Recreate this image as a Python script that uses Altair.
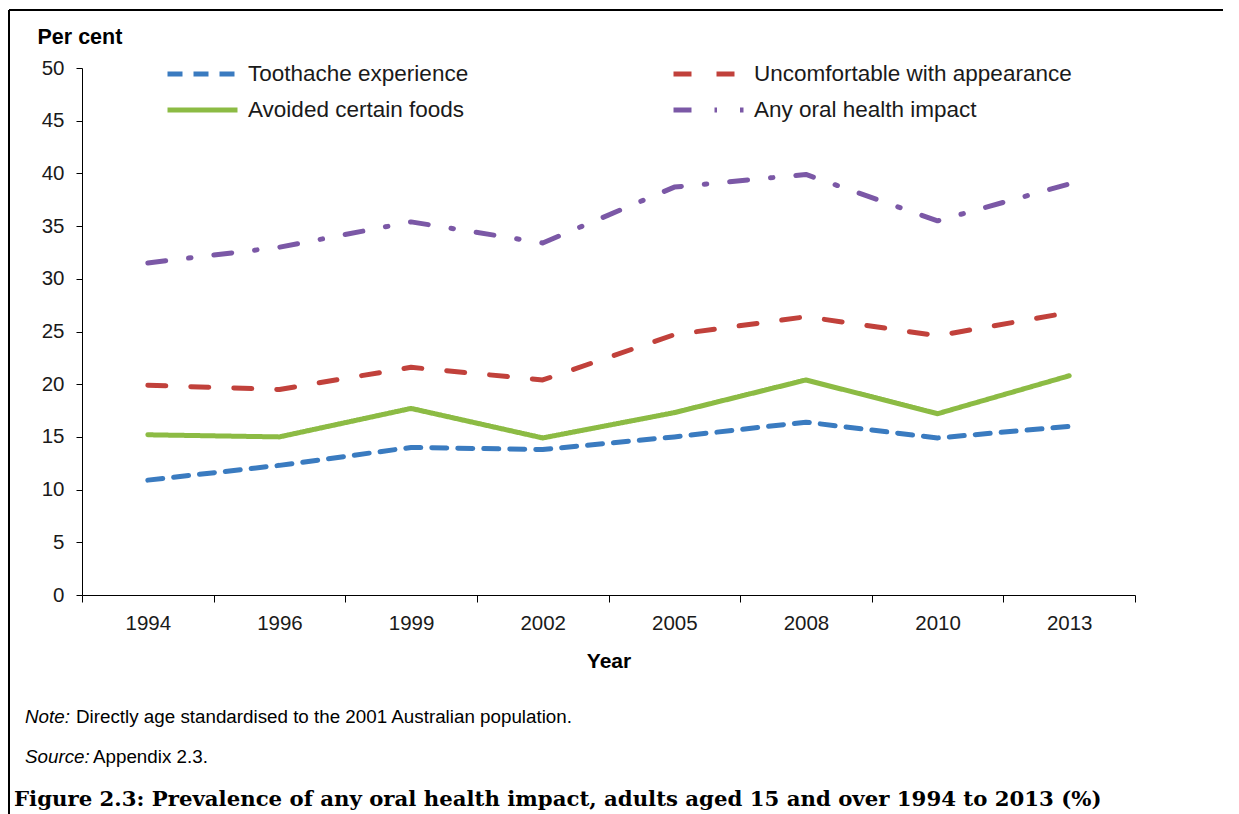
import altair as alt
import pandas as pd

years = ["1994", "1996", "1999", "2002", "2005", "2008", "2010", "2013"]
series_names = ["Toothache experience", "Uncomfortable with appearance",
                "Avoided certain foods", "Any oral health impact"]
toothache = [10.9, 12.3, 14.0, 13.8, 15.0, 16.4, 14.9, 16.0]
uncomfortable = [19.9, 19.5, 21.6, 20.4, 24.7, 26.4, 24.6, 26.8]
avoided = [15.2, 15.0, 17.7, 14.9, 17.3, 20.4, 17.2, 20.8]
any_impact = [31.5, 33.0, 35.4, 33.4, 38.7, 39.9, 35.5, 39.0]

colors = ["#3a7bc0", "#c1413b", "#8cbb44", "#7b58a6"]
dashes = [[15, 11], [18, 25], [1, 0], [18, 23, 2.5, 23]]

note_label = "Note:"
note_text = "Directly age standardised to the 2001 Australian population."
source_label = "Source:"
source_text = "Appendix 2.3."
caption = "Figure 2.3: Prevalence of any oral health impact, adults aged 15 and over 1994 to 2013 (%)"

rows = []
for name, vals in zip(series_names, [toothache, uncomfortable, avoided, any_impact]):
    for y, v in zip(years, vals):
        rows.append({"Year": y, "Value": v, "Series": name})
df = pd.DataFrame(rows)

FONT = "Liberation Sans"
W, H = 1053, 527

legend = alt.Legend(
    title=None, orient="none", legendX=83, legendY=-9, columns=2, direction="horizontal",
    columnPadding=202, rowPadding=6, clipHeight=30, symbolType="stroke", symbolSize=4900,
    symbolStrokeWidth=5, labelFontSize=22.5, labelFont=FONT, labelOffset=8,
    labelColor="#1a1a1a", labelLimit=400,
)

lines = alt.Chart(df).mark_line(strokeWidth=5, strokeCap="round", strokeJoin="round").encode(
    x=alt.X("Year:N", sort=years, bandPosition=0.5,
            scale=alt.Scale(type="band", domain=years, paddingInner=0, paddingOuter=0),
            axis=alt.Axis(title="Year", labelAngle=0, tickBand="extent", tickSize=7,
                          labelPadding=11, titlePadding=17, labelFontSize=20.5,
                          titleFontSize=21, titleFontWeight="bold", labelFont=FONT,
                          titleFont=FONT, domainColor="black", tickColor="black",
                          labelColor="#1a1a1a", titleColor="black", grid=False)),
    y=alt.Y("Value:Q", scale=alt.Scale(domain=[0, 50], nice=False),
            axis=alt.Axis(values=list(range(0, 51, 5)), title="Per cent", titleAngle=0,
                          titleAlign="left", titleBaseline="middle", titleX=-45, titleY=-31,
                          titleFontSize=21.5, titleFontWeight="bold", titleFont=FONT,
                          labelFont=FONT, labelFontSize=20.5, tickSize=6, labelPadding=12,
                          grid=False, domainColor="black", tickColor="black",
                          labelColor="#1a1a1a", titleColor="black")),
    color=alt.Color("Series:N", sort=series_names,
                    scale=alt.Scale(domain=series_names, range=colors), legend=legend),
    strokeDash=alt.StrokeDash("Series:N", sort=series_names,
                              scale=alt.Scale(domain=series_names, range=dashes), legend=legend),
    order=alt.Order("Series:N"),
)

one = pd.DataFrame({"t": [0]})

border_top = alt.Chart(one).mark_rule(stroke="black", strokeWidth=2).encode(
    x=alt.value(-73), x2=alt.value(1141), y=alt.value(-58))
border_left = alt.Chart(one).mark_rule(stroke="black", strokeWidth=2).encode(
    x=alt.value(-73), y=alt.value(-58), y2=alt.value(2000))

def txt(s, x, y, size, style="normal", weight="normal", font=FONT):
    return alt.Chart(pd.DataFrame({"t": [s]})).mark_text(
        align="left", baseline="middle", fontSize=size, fontStyle=style,
        fontWeight=weight, font=font, color="black").encode(
        text="t:N", x=alt.value(x), y=alt.value(y))

note1 = txt(note_label, 25 - 82, 717 - 68, 18.8, style="italic")
note2 = txt(note_text, 76 - 82, 717 - 68, 18.8)
src1 = txt(source_label, 25 - 82, 757 - 68, 18.8, style="italic")
src2 = txt(source_text, 93 - 82, 757 - 68, 18.8)
cap = txt(caption, 14 - 82, 800 - 68, 21.25, weight="bold", font="DejaVu Serif")

chart = alt.layer(border_top, border_left, lines, note1, note2, src1, src2, cap).properties(
    width=W, height=H,
    autosize=alt.AutoSizeParams(type="none"),
    padding={"left": 74, "top": 60, "right": 96, "bottom": 219},
    background="white",
).configure_view(stroke=None)

chart.save("out.html", embed_options={"renderer": "svg", "actions": False})
